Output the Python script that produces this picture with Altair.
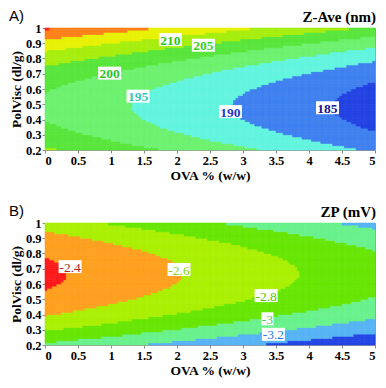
import altair as alt
import numpy as np
import pandas as pd

# ---- axes ----
ova_ticks = [0, 0.5, 1, 1.5, 2, 2.5, 3, 3.5, 4, 4.5, 5]
polvisc_ticks = [0.2, 0.3, 0.4, 0.5, 0.6, 0.7, 0.8, 0.9, 1.0]

# ---- Panel A: Z-Ave response surface (coefficients) ----
# Z = b0 + b1*OVA + b2*(PolVisc - y0)^2
zave_coef = [199.35, -3.3, 81.0, 0.485]
zave_levels = [185, 190, 195, 200, 205, 210, 215, 220]
zave_colors = ["#2141e3", "#3e80f0", "#62f5df", "#6cf26e", "#58e63a",
               "#a6ee0c", "#e8f200", "#ff8018", "#ff2018"]
zave_lbl_text = ["210", "205", "200", "195", "190", "185"]
zave_lbl_x = [1.9, 2.4, 0.98, 1.41, 2.81, 4.28]
zave_lbl_y = [0.924, 0.887, 0.704, 0.553, 0.452, 0.477]
zave_lbl_color = ["#2ec41a", "#3ccf1e", "#2ac42a", "#30c8b4", "#2236c8", "#16168e"]
zave_box_w = [23, 23, 23, 23, 23, 23]

# ---- Panel B: ZP response surface ----
# W = b0 + b1*OVA + b2*(PolVisc - y0)^2
zp_coef = [-2.362, -0.1136, -3.1, 0.668]
zp_levels = [-3.4, -3.2, -3.0, -2.8, -2.6, -2.4]
zp_colors = ["#2244e6", "#55b4f5", "#68f28c", "#66e600", "#aaf000",
             "#ffa01e", "#ff1a1a"]
zp_lbl_text = ["-2.4", "-2.6", "-2.8", "-3", "-3.2"]
zp_lbl_x = [0.38, 2.03, 3.35, 3.37, 3.46]
zp_lbl_y = [0.714, 0.695, 0.524, 0.372, 0.27]
zp_lbl_color = ["#b02a24", "#80d400", "#4cc400", "#3ccc6c", "#2a7adc"]
zp_box_w = [23, 23, 23, 12, 23]

NX, NY = 140, 56
W, H = 330, 122
BOX_H = 13


def surface(coef):
    xe = np.linspace(0, 5, NX + 1)
    ye = np.linspace(0.2, 1.0, NY + 1)
    xc = (xe[:-1] + xe[1:]) / 2
    yc = (ye[:-1] + ye[1:]) / 2
    X, Y = np.meshgrid(xc, yc)
    Z = coef[0] + coef[1] * X + coef[2] * (Y - coef[3]) ** 2
    X0, Y0 = np.meshgrid(xe[:-1], ye[:-1])
    return pd.DataFrame({"x": np.round(X0.ravel(), 4), "y": np.round(Y0.ravel(), 4),
                         "z": np.round(Z.ravel(), 4)})


def box_path(w, h):
    s = max(w, h)
    a, b = w / s, h / s
    return f"M{-a:.3f},{-b:.3f}L{a:.3f},{-b:.3f}L{a:.3f},{b:.3f}L{-a:.3f},{b:.3f}Z", s * s


def panel(coef, levels, colors, ltext, lx, ly, lcol, bw, letter, title, bold_labels):
    df = surface(coef)
    dx = 5 / NX
    dy = 0.8 / NY
    xs = alt.Scale(domain=[0, 5], nice=False, zero=False)
    ys = alt.Scale(domain=[0.2, 1.0], nice=False, zero=False)
    xaxis = alt.Axis(values=ova_ticks, format="~g", labelOverlap=False,
                     title="OVA % (w/w)")
    yaxis = alt.Axis(values=polvisc_ticks, format="~g", labelOverlap=False,
                     title="PolVisc (dl/g)")
    xenc = alt.X("x:Q", scale=xs, axis=xaxis)
    yenc = alt.Y("y:Q", scale=ys, axis=yaxis)
    cs = alt.Scale(type="threshold", domain=levels, range=colors)
    base = alt.Chart(df).transform_calculate(
        x2=f"datum.x + {dx}", y2=f"datum.y + {dy}")
    cells = base.mark_rect(strokeWidth=0.6).encode(
        x=xenc, x2="x2:Q", y=yenc, y2="y2:Q",
        color=alt.Color("z:Q", scale=cs, legend=None),
        stroke=alt.Stroke("z:Q", scale=cs, legend=None),
    )
    paths, sizes = zip(*[box_path(w, BOX_H) for w in bw])
    ldf = pd.DataFrame({"t": ltext, "x": lx, "y": ly, "c": lcol,
                        "p": list(paths), "sz": list(sizes)})
    boxes = alt.Chart(ldf).mark_point(
        filled=True, fill="white", opacity=1, strokeWidth=0).encode(
        x=xenc, y=yenc,
        shape=alt.Shape("p:N", scale=None),
        size=alt.Size("sz:Q", scale=None))
    texts = alt.Chart(ldf).mark_text(
        font="Liberation Serif", fontSize=13.5,
        fontWeight="bold" if bold_labels else "normal",
        align="center", baseline="middle", dy=1).encode(
        x=xenc, y=yenc,
        text="t:N", fill=alt.Fill("c:N", scale=None))
    tdf = pd.DataFrame({"a": [letter], "b": [title]})
    letter_t = alt.Chart(tdf).mark_text(
        font="Liberation Sans", fontSize=15, align="left", baseline="top",
        color="black").encode(text="a:N", x=alt.value(-36), y=alt.value(-19))
    title_t = alt.Chart(tdf).mark_text(
        font="Liberation Serif", fontSize=15, fontWeight="bold", align="right",
        baseline="top", color="black").encode(
        text="b:N", x=alt.value(W + 1), y=alt.value(-18))
    return alt.layer(cells, boxes, texts, letter_t, title_t).resolve_scale(
        color="independent", fill="independent", stroke="independent"
    ).properties(width=W, height=H)


a = panel(zave_coef, zave_levels, zave_colors, zave_lbl_text, zave_lbl_x, zave_lbl_y,
          zave_lbl_color, zave_box_w, "A)", "Z-Ave (nm)", True)
b = panel(zp_coef, zp_levels, zp_colors, zp_lbl_text, zp_lbl_x, zp_lbl_y,
          zp_lbl_color, zp_box_w, "B)", "ZP (mV)", False)

chart = alt.vconcat(a, b, spacing=20).properties(padding=0).configure_view(
    stroke="#999999", strokeWidth=1
).configure_axis(
    labelFont="Liberation Serif", labelFontWeight="bold", labelFontSize=12.5,
    labelColor="black", titleFont="Liberation Serif", titleFontWeight="bold",
    titleFontSize=13.5, titleColor="black", grid=False, tickSize=3,
    tickColor="#888888", domain=False, labelPadding=1, titlePadding=2
)

chart.save("out.html", embed_options={"renderer": "svg", "actions": False})
